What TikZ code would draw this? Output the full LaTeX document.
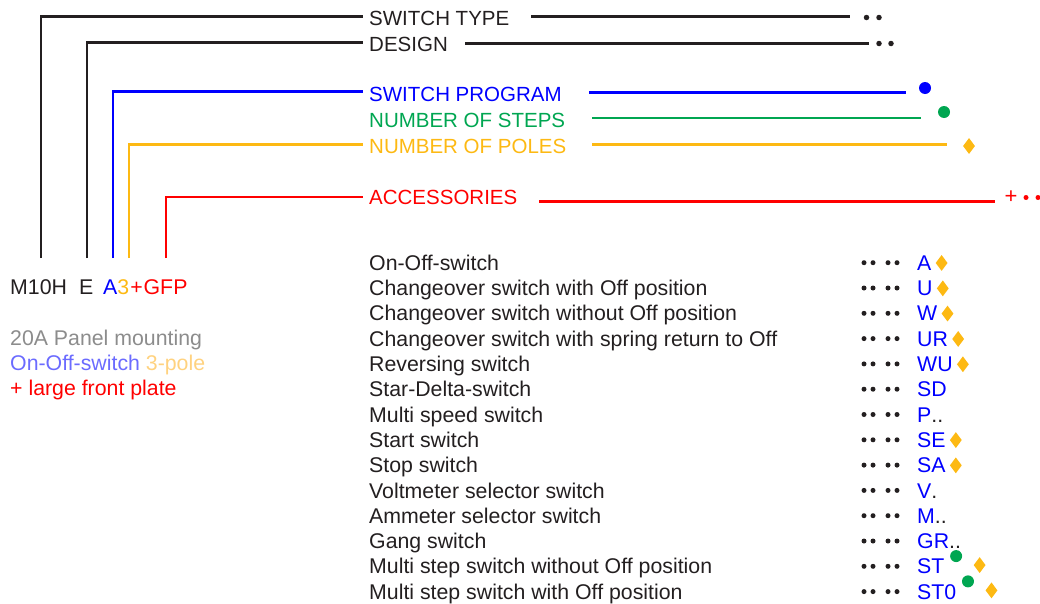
\documentclass[tikz,border=0pt]{standalone}
\usepackage{fontspec}
\setmainfont{Liberation Sans}
\usetikzlibrary{shapes.geometric}
\definecolor{cblk}{HTML}{231F20}
\definecolor{cblue}{HTML}{0000FF}
\definecolor{cgreen}{HTML}{00A651}
\definecolor{cyel}{HTML}{FDB913}
\definecolor{cred}{HTML}{FF0000}
\definecolor{cgrey}{HTML}{8C8C8C}
\definecolor{clblue}{HTML}{6B6BFF}
\definecolor{clyel}{HTML}{FFD27F}
\begin{document}
\begin{tikzpicture}[x=1pt,y=-1pt,
 lbl/.style={anchor=base west,inner sep=0pt,font=\fontsize{20.5}{24}\selectfont},
 txt/.style={anchor=base west,inner sep=0pt,font=\fontsize{21.3}{25}\selectfont},
 ln/.style={line width=2.5pt},
 dmd/.style={diamond,fill=cyel,inner sep=0pt,minimum width=12pt,minimum height=16pt},
 gdot/.style={circle,fill=cgreen,inner sep=0pt,minimum size=12pt},
 sdot/.style={circle,fill=cblk,inner sep=0pt,minimum size=5.5pt},
 ldot/.style={circle,fill=cblk,inner sep=0pt,minimum size=5pt}]
\useasboundingbox (0,0) rectangle (1040,603);

% headings
\node[lbl,text=cblk] (ht) at (369,25.5) {SWITCH TYPE};
\node[lbl,text=cblk] (hd) at (369,51.5) {DESIGN};
\node[lbl,text=cblue] (hp) at (369,101.5) {SWITCH PROGRAM};
\node[lbl,text=cgreen] (hs) at (369,127.5) {NUMBER OF STEPS};
\node[lbl,text=cyel] (hn) at (369,153.5) {NUMBER OF POLES};
\node[lbl,text=cred] (ha) at (369,204) {ACCESSORIES};

% left connectors
\coordinate (vt) at (41,258);   \coordinate (lt) at (363,16.5);
\coordinate (vd) at (87,258);   \coordinate (ld) at (363,42.5);
\coordinate (vp) at (113,258);  \coordinate (lp) at (363,91.5);
\coordinate (vn) at (129,258);  \coordinate (ln) at (363,144.5);
\coordinate (va) at (166,258);  \coordinate (la) at (363,197);
\draw[ln,cblk] (vt) |- (lt);
\draw[ln,cblk] (vd) |- (ld);
\draw[ln,cblue] (vp) |- (lp);
\draw[ln,cyel] (vn) |- (ln);
\draw[ln,cred] (va) |- (la);

% right connectors
\coordinate (rt1) at (531,16.7);  \coordinate (rt2) at (850,16.7);
\coordinate (rd1) at (465,43.3);  \coordinate (rd2) at (869,43.3);
\coordinate (rp1) at (589,92.7);  \coordinate (rp2) at (906,92.7);
\coordinate (rs1) at (592,118);   \coordinate (rs2) at (921,118);
\coordinate (rn1) at (592,144.3); \coordinate (rn2) at (947,144.3);
\coordinate (ra1) at (539,201.3); \coordinate (ra2) at (995,201.3);
\draw[ln,cblk] (rt1) -- (rt2);
\draw[ln,cblk] (rd1) -- (rd2);
\draw[ln,cblue] (rp1) -- (rp2);
\draw[ln,cgreen] (rs1) -- (rs2);
\draw[ln,cyel] (rn1) -- (rn2);
\draw[ln,cred] (ra1) -- (ra2);

% end marks
\node[sdot] (et1) at (866.5,17.5) {};
\node[sdot] (et2) at (879,17.5) {};
\node[sdot] (ed1) at (879,43.5) {};
\node[sdot] (ed2) at (891,43.5) {};
\node[circle,fill=cblue,inner sep=0pt,minimum size=12pt] (ep) at (925,88) {};
\node[gdot] (es) at (944,112) {};
\node[dmd] (en) at (969,146) {};
\node[inner sep=0pt,text=cred,font=\fontsize{22}{24}\selectfont] (eplus) at (1011,197.5) {+};
\node[circle,fill=cred,inner sep=0pt,minimum size=5pt] (ea1) at (1026,197.5) {};
\node[circle,fill=cred,inner sep=0pt,minimum size=5pt] (ea2) at (1038,197.5) {};

% example code
\node[txt,text=cblk] (m10) at (10,294.5) {M10H};
\node[txt,text=cblk] (mE) at (79,294.5) {E};
\node[txt] (mA) at (103,294.5) {\textcolor{cblue}{A}\textcolor{cyel}{3}\textcolor{cred}{\kern1pt+\kern1pt GFP}};
\node[txt,text=cgrey] (x1) at (10,345.5) {20A Panel mounting};
\node[txt] (x2) at (10,370.5) {\textcolor{clblue}{On-Off-switch} \textcolor{clyel}{3-pole}};
\node[txt,text=cred] (x3) at (10,395.5) {+ large front plate};

% list
\foreach \t/\c/\k [count=\i from 0] in {
 On-Off-switch/A/1,
 Changeover switch with Off position/U/1,
 Changeover switch without Off position/W/1,
 Changeover switch with spring return to Off/UR/1,
 Reversing switch/WU/1,
 Star-Delta-switch/SD/0,
 Multi speed switch/P{\color{cblk}..}/0,
 Start switch/SE/1,
 Stop switch/SA/1,
 Voltmeter selector switch/V{\color{cblk}.}/0,
 Ammeter selector switch/M{\color{cblk}..}/0,
 Gang switch/GR{\color{cblk}..}/0,
 Multi step switch without Off position/ST/2,
 Multi step switch with Off position/ST0/2}{
 \pgfmathsetmacro\yb{270.3+25.3*\i}
 \node[txt,text=cblk] (t\i) at (369,\yb) {\t};
 \node[txt,text=cblue] (c\i) at (917,\yb) {\c};
 \foreach \dx in {864,873,888,897}{\node[ldot] (d\i x\dx) at (\dx,\yb-7.6) {};}
 \ifnum\k=1 \node[dmd] (m\i) at ([xshift=10pt]c\i.east) {};\fi
 \ifnum\k=2
   \node[gdot] (g\i) at ([shift={(11.5,-10.5)}]c\i.east) {};
   \node[dmd] (m\i) at ([shift={(35,-1.5)}]c\i.east) {};
 \fi
}
\end{tikzpicture}
\end{document}
